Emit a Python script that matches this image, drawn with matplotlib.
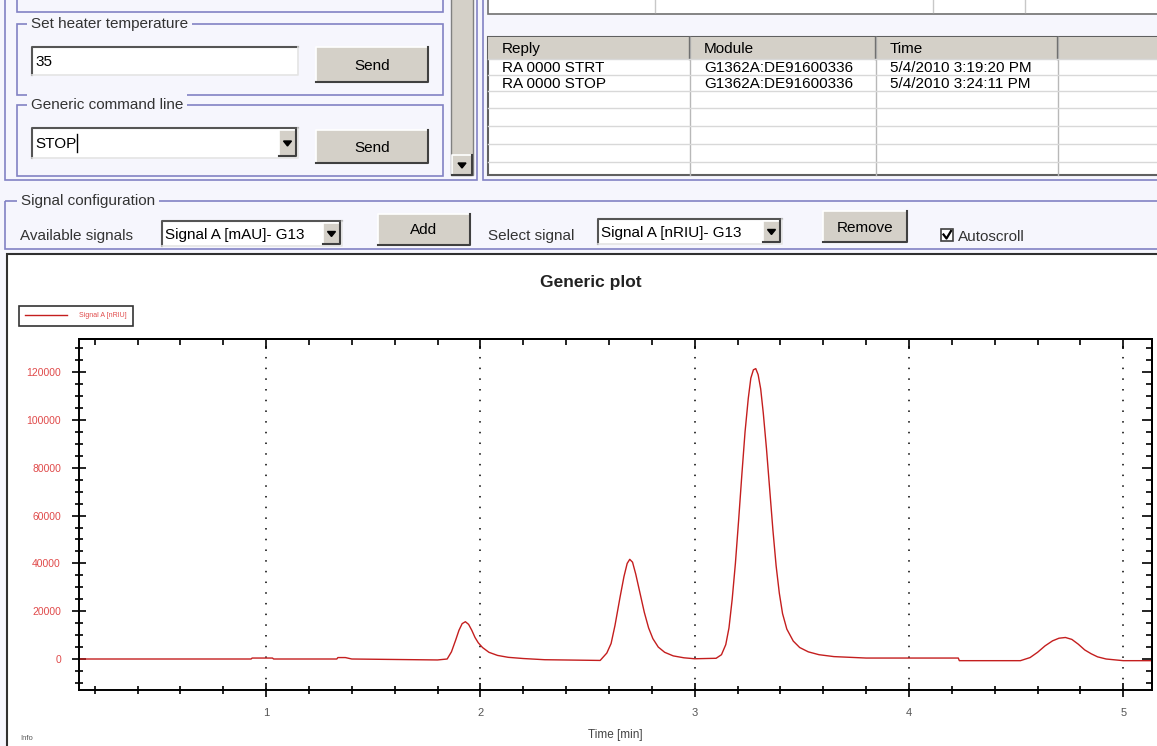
import numpy as np
import matplotlib.pyplot as plt
from matplotlib.patches import Rectangle, Polygon

plt.rcParams['font.family'] = ['Liberation Sans', 'DejaVu Sans']

# chromatogram (time in min, signal in nRIU)
time_min = [0.127, 0.93, 0.935, 1.03, 1.035, 1.33, 1.335, 1.37, 1.40, 1.80,
            1.845, 1.865, 1.885, 1.90, 1.915, 1.93, 1.945, 1.96, 1.975, 1.99,
            2.01, 2.04, 2.08, 2.13, 2.20, 2.30, 2.559, 2.59, 2.61, 2.628,
            2.652, 2.67, 2.685, 2.697, 2.71, 2.725, 2.745, 2.765, 2.785, 2.805,
            2.83, 2.86, 2.90, 2.95, 3.00, 3.10, 3.125, 3.145, 3.16, 3.175,
            3.19, 3.205, 3.22, 3.235, 3.25, 3.262, 3.274, 3.285, 3.296, 3.308,
            3.32, 3.335, 3.35, 3.365, 3.38, 3.395, 3.41, 3.43, 3.46, 3.49,
            3.53, 3.58, 3.65, 3.80, 4.23, 4.235, 4.52, 4.565, 4.60, 4.635,
            4.67, 4.70, 4.73, 4.76, 4.79, 4.82, 4.85, 4.88, 4.92, 5.0,
            5.134]
signal = [0, 0, 400, 400, 0, 0, 600, 600, 0, -400,
          0, 3000, 8000, 12000, 14800, 15600, 14500, 12000, 9000, 6800,
          4800, 2800, 1500, 700, 200, -300, -600, 2500, 6500, 14000,
          26000, 34500, 40000, 41700, 40500, 35500, 27500, 19500, 13000, 8500,
          5000, 2800, 1300, 500, 100, 300, 1800, 6000, 13000, 25000,
          40000, 58000, 77000, 95000, 109000, 117500, 121000, 121500, 119000, 113000,
          103000, 88000, 71000, 54000, 39000, 27500, 19000, 12500, 7500, 4800,
          3000, 1800, 1000, 400, 400, -700, -700, 600, 2800, 5500,
          7600, 8700, 9000, 8200, 6200, 3800, 2200, 900, 0, -700,
          -700]

x_ticks = [1, 2, 3, 4, 5]
y_ticks = [0, 20000, 40000, 60000, 80000, 100000, 120000]

table_cols = ['Reply', 'Module', 'Time']
table_rows = [['RA 0000 STRT', 'G1362A:DE91600336', '5/4/2010 3:19:20 PM'],
              ['RA 0000 STOP', 'G1362A:DE91600336', '5/4/2010 3:24:11 PM']]

W, H = 1157, 746
fig = plt.figure(figsize=(W / 100, H / 100), dpi=100)

# ---- GUI layer in pixel coords ----
gui = fig.add_axes([0, 0, 1, 1], zorder=0)
gui.set_xlim(0, W)
gui.set_ylim(H, 0)
gui.axis('off')

bg = '#f6f6fd'
frame = '#8282c4'
btn = '#d4d0c8'
fs = 11

gui.add_patch(Rectangle((0, 0), W, H, facecolor=bg, edgecolor='none'))


def box(x0, y0, x1, y1, fc='none', ec=frame, lw=1.2, z=1):
    gui.add_patch(Rectangle((x0, y0), x1 - x0, y1 - y0, facecolor=fc,
                            edgecolor=ec, linewidth=lw, zorder=z))


def group(x0, y0, x1, y1, label, lx):
    box(x0, y0, x1, y1)
    gui.text(lx, y0, label, fontsize=fs, color='#333333', va='center', ha='left',
             zorder=3, bbox=dict(facecolor=bg, edgecolor='none', pad=2.5))


def button(x0, y0, x1, y1, label):
    gui.add_patch(Rectangle((x0, y0), x1 - x0, y1 - y0, facecolor=btn,
                            edgecolor='none', zorder=2))
    gui.plot([x0, x0, x1], [y1, y0, y0], color='white', lw=1.2, zorder=3)
    gui.plot([x0, x1, x1], [y1, y1, y0], color='#404040', lw=1.5, zorder=3)
    gui.text((x0 + x1) / 2, (y0 + y1) / 2 + 1, label, fontsize=fs, ha='center',
             va='center', zorder=4)


def entry(x0, y0, x1, y1, text, drop=False):
    gui.add_patch(Rectangle((x0, y0), x1 - x0, y1 - y0, facecolor='white',
                            edgecolor='none', zorder=2))
    gui.plot([x0, x0, x1], [y1, y0, y0], color='#555555', lw=1.5, zorder=3)
    gui.plot([x0, x1, x1], [y1, y1, y0], color='#e4e4e4', lw=1.2, zorder=3)
    gui.text(x0 + 3, (y0 + y1) / 2 + 1, text, fontsize=fs, va='center', ha='left', zorder=4)
    if drop:
        bx0 = x1 - 19
        button(bx0, y0 + 2, x1 - 2, y1 - 2, '')
        cx, cy = (bx0 + x1 - 2) / 2, (y0 + y1) / 2
        gui.add_patch(Polygon([[cx - 4, cy - 2], [cx + 4, cy - 2], [cx, cy + 3]],
                              closed=True, color='black', zorder=5))


# left panel
box(5, -5, 477, 180)
box(17, -5, 443, 12)
group(17, 24, 443, 95, 'Set heater temperature', 31)
entry(32, 47, 298, 75, '35')
button(316, 47, 428, 82, 'Send')
group(17, 105, 443, 176, 'Generic command line', 31)
entry(32, 128, 298, 158, 'STOP', drop=True)
gui.plot([77, 77], [134, 152], color='black', lw=1, zorder=5)
button(316, 130, 428, 163, 'Send')

# scrollbar
gui.add_patch(Rectangle((451, -2), 22, 177, facecolor=btn, edgecolor='#808080', lw=1, zorder=2))
button(452, 155, 472, 175, '')
gui.add_patch(Polygon([[458, 163], [466, 163], [462, 168]], closed=True, color='black', zorder=5))

# right panel with reply table
box(483, -5, 1162, 180)
box(488, -5, 1162, 14, fc='white', ec='#707070')
for xv in [655, 933, 1025]:
    gui.plot([xv, xv], [0, 12], color='#c8c8c8', lw=1, zorder=2)
box(488, 37, 1162, 175, fc='white', ec='#606060', lw=1.5)
col_x = [488, 690, 876, 1058, 1162]
gui.add_patch(Rectangle((488, 37), 1162 - 488, 22, facecolor=btn, edgecolor='none', zorder=2))
for xv in col_x[1:4]:
    gui.plot([xv, xv], [37, 175], color='#b8b8b8', lw=1, zorder=3)
    gui.plot([xv - 1, xv - 1], [37, 59], color='#707070', lw=1, zorder=3)
for yv in [59, 75, 91, 108, 126, 144, 162]:
    gui.plot([488, 1162], [yv, yv], color='#d8d8d8', lw=1, zorder=3)
for i, c in enumerate(table_cols):
    gui.text(col_x[i] + 14, 49, c, fontsize=fs, va='center', zorder=4)
for r, row in enumerate(table_rows):
    for i, c in enumerate(row):
        gui.text(col_x[i] + 14, 68 + 16 * r, c, fontsize=fs, va='center', zorder=4)

# signal configuration bar
group(5, 201, 1162, 249, 'Signal configuration', 21)
gui.text(20, 236, 'Available signals', fontsize=fs, color='#333333', va='center')
entry(162, 221, 342, 246, 'Signal A [mAU]- G13', drop=True)
button(378, 214, 470, 245, 'Add')
gui.text(488, 236, 'Select signal', fontsize=fs, color='#333333', va='center')
entry(598, 219, 782, 244, 'Signal A [nRIU]- G13', drop=True)
button(823, 211, 907, 242, 'Remove')
gui.add_patch(Rectangle((941, 229), 12, 12, facecolor='white', edgecolor='#404040', lw=1.2, zorder=3))
gui.plot([943.5, 946.5, 951], [234.5, 238.5, 231], color='black', lw=1.6, zorder=4)
gui.text(958, 237, 'Autoscroll', fontsize=fs, color='#333333', va='center')

# plot panel
gui.add_patch(Rectangle((7, 254), W, H, facecolor='white', edgecolor='#303030', lw=1.5, zorder=2))
gui.text(20, 739, 'Info', fontsize=5.5, color='#555555', va='center', zorder=3)

# ---- chromatogram ----
ax = fig.add_axes([79 / W, 1 - 690 / H, (1152 - 79) / W, (690 - 339) / H], zorder=1)
ax.plot(time_min, signal, color='#c41e1e', lw=1.0, label='Signal A [nRIU]')
ax.set_xlim(0.127, 5.134)
ax.set_ylim(-12970, 133890)
ax.set_xticks(x_ticks)
ax.set_xticks(np.arange(0.2, 5.2, 0.2), minor=True)
ax.set_yticks(y_ticks)
ax.set_yticks(np.arange(-10000, 135000, 5000), minor=True)
ax.set_yticklabels([str(v) for v in y_ticks])
ax.tick_params(which='both', direction='inout', width=1.2, color='black')
ax.tick_params(which='major', length=10)
ax.tick_params(which='minor', length=6)
ax.tick_params(axis='y', labelcolor='#e04a4a', labelsize=7.5, pad=8)
ax.tick_params(axis='x', labelcolor='#555555', labelsize=8, pad=8)
for s in ax.spines.values():
    s.set_linewidth(1.4)

# top and right ticks only point inward
top = ax.secondary_xaxis('top')
top.set_xticks(x_ticks, labels=[])
top.set_xticks(np.arange(0.2, 5.2, 0.2), minor=True)
right = ax.secondary_yaxis('right')
right.set_yticks(y_ticks, labels=[])
right.set_yticks(np.arange(-10000, 135000, 5000), minor=True)
for sec in (top, right):
    sec.tick_params(which='both', direction='in', width=1.2, color='black')
    sec.tick_params(which='major', length=7)
    sec.tick_params(which='minor', length=4)
    for s in sec.spines.values():
        s.set_linewidth(1.4)

ax.grid(axis='x', which='major', color='black', linestyle=(0, (1, 6)), lw=1.1)
ax.set_xlabel('Time [min]', fontsize=8.5, color='#444444', labelpad=8)
fig.text(591 / W, 1 - 283 / H, 'Generic plot', fontsize=12.5, fontweight='bold',
         ha='center', va='center', color='#222222')
leg = ax.legend(loc='upper left', bbox_to_anchor=(19 / W, 1 - 306 / H),
                bbox_transform=fig.transFigure, fontsize=5, frameon=True,
                fancybox=False, borderpad=0.9, handlelength=6, handletextpad=1.8,
                borderaxespad=0)
leg.get_frame().set_edgecolor('black')
leg.get_frame().set_linewidth(1.2)
for t in leg.get_texts():
    t.set_color('#e04a4a')

fig.savefig('out.png', dpi=100)
